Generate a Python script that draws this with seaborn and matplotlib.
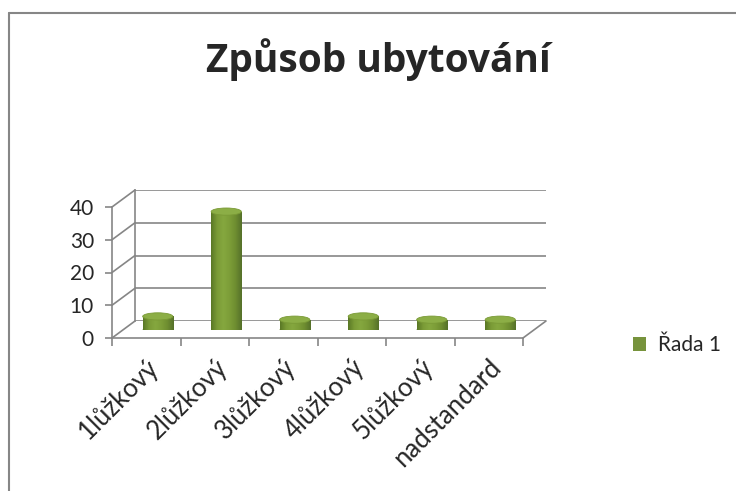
import matplotlib
matplotlib.use("Agg")
import matplotlib.pyplot as plt
import numpy as np
import pandas as pd
import seaborn as sns
from matplotlib.patches import Ellipse
from matplotlib.lines import Line2D
from matplotlib.colors import LinearSegmentedColormap

# data
categories = ['1lůžkový', '2lůžkový', '3lůžkový', '4lůžkový', '5lůžkový', 'nadstandard']
values = [4, 36, 3, 4, 3, 3]
series_name = 'Řada 1'
title = 'Způsob ubytování'
y_ticks = [0, 10, 20, 30, 40]

df = pd.DataFrame({'cat': categories, 'val': values})

sns.set_theme(style='white')
plt.rcParams['font.family'] = ['Lato', 'DejaVu Sans']

W, H = 736, 491
fig = plt.figure(figsize=(W / 100, H / 100), dpi=100)

grid_col = '#868686'
lw = 1.2

# front plane of the 3d box, in pixels
left, right, y0, y40 = 112, 523, 338, 207
dx, dy = 23, 17   # depth offset (right, up)


def box(ox, oy):
    return [(left + ox) / W, 1 - (y0 - oy) / H, (right - left) / W, (y0 - y40) / H]


ax_back = fig.add_axes(box(dx, dy), zorder=0)
ax = fig.add_axes(box(0, 0), zorder=1)
ax_mid = fig.add_axes(box(dx / 2, dy / 2), zorder=2)

for a in (ax_back, ax, ax_mid):
    a.set_xlim(-0.5, len(categories) - 0.5)
    a.set_ylim(0, 40)
    a.patch.set_alpha(0)
    for s in a.spines.values():
        s.set_visible(False)

# back wall
ax_back.hlines(y_ticks, -0.5, len(categories) - 0.5, color=grid_col, lw=lw)
ax_back.spines['left'].set_visible(True)
ax_back.spines['left'].set_color(grid_col)
ax_back.spines['left'].set_linewidth(lw)
ax_back.set_xticks([])
ax_back.set_yticks([])

# front axes
for s in ('left', 'bottom'):
    ax.spines[s].set_visible(True)
    ax.spines[s].set_color(grid_col)
    ax.spines[s].set_linewidth(lw)
ax.set_yticks(y_ticks)
ax.set_yticklabels([str(t) for t in y_ticks], fontsize=15)
ax.tick_params(axis='y', which='major', left=True, length=5, width=lw, color=grid_col, pad=8)
ax.set_xticks(range(len(categories)))
ax.set_xticklabels(categories, fontsize=18.5)
ax.set_xticks(np.arange(-0.5, len(categories)), minor=True)
ax.tick_params(axis='x', which='major', length=0, pad=12)
ax.tick_params(axis='x', which='minor', bottom=True, length=6, width=lw, color=grid_col)
plt.setp(ax.get_xticklabels(), rotation=45, ha='right', rotation_mode='anchor')

# side wall and floor diagonals
to_fig = fig.transFigure.inverted()
for t in y_ticks:
    p0 = to_fig.transform(ax.transData.transform((-0.5, t)))
    p1 = to_fig.transform(ax_back.transData.transform((-0.5, t)))
    fig.add_artist(Line2D([p0[0], p1[0]], [p0[1], p1[1]], color=grid_col, lw=lw))
p0 = to_fig.transform(ax.transData.transform((len(categories) - 0.5, 0)))
p1 = to_fig.transform(ax_back.transData.transform((len(categories) - 0.5, 0)))
fig.add_artist(Line2D([p0[0], p1[0]], [p0[1], p1[1]], color=grid_col, lw=lw))

# cylinders
sns.barplot(data=df, x='cat', y='val', ax=ax_mid, color='#77933C', width=0.44,
            label=series_name, saturation=1)
if ax_mid.get_legend() is not None:
    ax_mid.get_legend().remove()
ax_mid.set_xlabel('')
ax_mid.set_ylabel('')
ax_mid.set_xticks([])
ax_mid.set_yticks([])

cmap = LinearSegmentedColormap.from_list(
    'cyl', ['#5A7826', '#7B9C37', '#85A73F', '#7D9E38', '#6E8D30', '#55712A'])
grad = np.linspace(0, 1, 64).reshape(1, -1)
eh = 2.2
for p in list(ax_mid.patches):
    x, w, h = p.get_x(), p.get_width(), p.get_height()
    cx = x + w / 2
    base = Ellipse((cx, 0), w, eh, facecolor='#62812B', edgecolor='none', zorder=1)
    ax_mid.add_patch(base)
    im = ax_mid.imshow(grad, cmap=cmap, extent=(x, x + w, 0, h), aspect='auto', zorder=2)
    im.set_clip_path(p)
    p.set_edgecolor('none')
    top = Ellipse((cx, h), w, eh, facecolor='#8CAE46', edgecolor='#7A9A36', lw=0.6, zorder=3)
    ax_mid.add_patch(top)
ax_mid.set_xlim(-0.5, len(categories) - 0.5)
ax_mid.set_ylim(0, 40)

handles, labels = ax_mid.get_legend_handles_labels()
fig.legend(handles[:1], labels[:1], loc='center left', bbox_to_anchor=(614 / W, 1 - 345 / H),
           frameon=False, fontsize=15, handlelength=0.65, handleheight=0.65,
           handletextpad=0.55)

fig.text(378 / W, 1 - 72 / H, title, ha='center', va='baseline', fontsize=28,
         fontweight='bold', family=['Open Sans', 'DejaVu Sans'])

# chart frame (only left and top edges fall inside the image)
fig.add_artist(Line2D([9 / W, 9 / W], [0, 1 - 13 / H], transform=fig.transFigure,
                      color=grid_col, lw=1.5))
fig.add_artist(Line2D([9 / W, 1], [1 - 13 / H, 1 - 13 / H], transform=fig.transFigure,
                      color=grid_col, lw=1.5))

fig.savefig('out.png', dpi=100)
